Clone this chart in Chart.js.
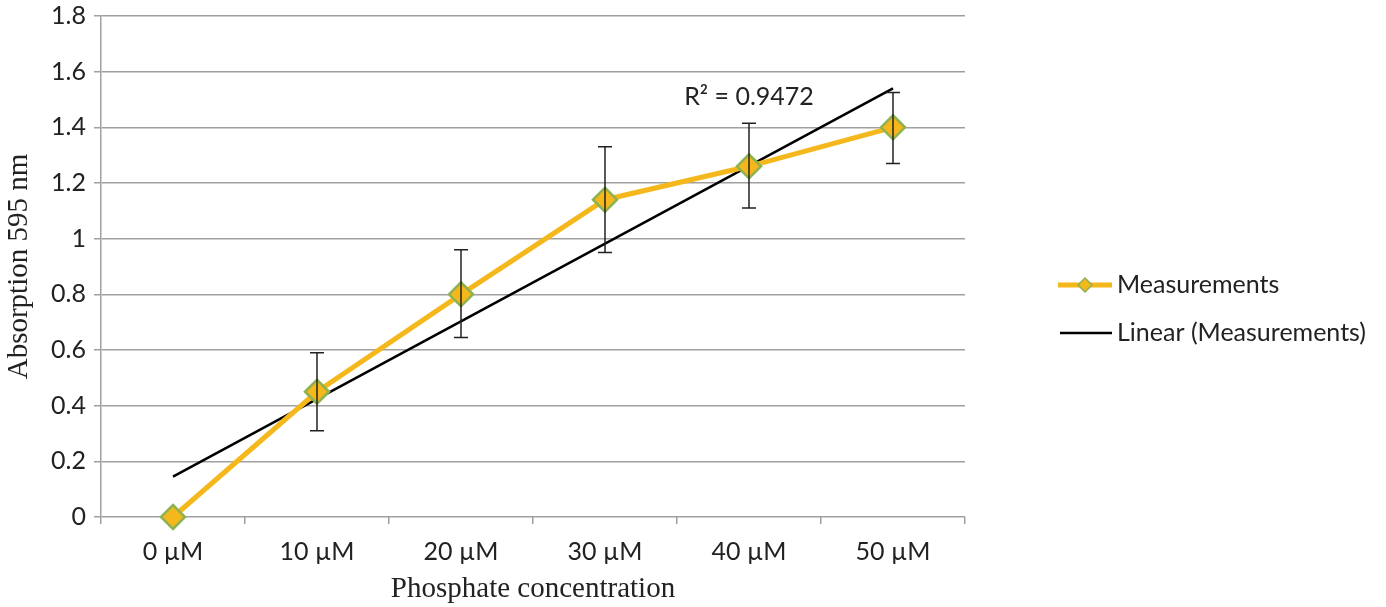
<!DOCTYPE html>
<html>
<head>
<meta charset="utf-8">
<script src="https://cdn.jsdelivr.net/npm/chart.js"></script>
<style>
  html, body { margin: 0; padding: 0; background: #fff; }
  #wrap { width: 1386px; height: 607px; }
</style>
</head>
<body>
<div id="wrap"><canvas id="myChart"></canvas></div>
<script>
    let labels = ["0 µM", "10 µM", "20 µM", "30 µM", "40 µM", "50 µM"];
    let measurements = [0, 0.45, 0.80, 1.14, 1.26, 1.40];
    let errPlus = [0, 0.14, 0.16, 0.19, 0.155, 0.125];
    let errMinus = [0, 0.14, 0.155, 0.19, 0.15, 0.13];
    // trend line end points
    let trend = [0.145, null, null, null, null, 1.54];
    let rSquared = "R² = 0.9472";

    let tickFont = { family: "Lato", size: 25 };
    let titleFont = { family: "Liberation Serif", size: 29 };

    let errorBars = {
      id: "errorBars",
      afterDatasetsDraw(chart) {
        let ctx = chart.ctx;
        let x = chart.scales.x, y = chart.scales.y;
        ctx.save();
        ctx.strokeStyle = "#222";
        ctx.lineWidth = 1.5;
        measurements.forEach(function (v, i) {
          if (!errPlus[i] && !errMinus[i]) return;
          let px = x.getPixelForValue(i);
          let top = y.getPixelForValue(v + errPlus[i]);
          let bot = y.getPixelForValue(v - errMinus[i]);
          ctx.beginPath();
          ctx.moveTo(px, top); ctx.lineTo(px, bot);
          ctx.moveTo(px - 7, top); ctx.lineTo(px + 7, top);
          ctx.moveTo(px - 7, bot); ctx.lineTo(px + 7, bot);
          ctx.stroke();
        });
        // R² label
        ctx.fillStyle = "#222";
        ctx.font = "25px Lato";
        ctx.textAlign = "center";
        ctx.textBaseline = "middle";
        ctx.fillText(rSquared, x.getPixelForValue(4), y.getPixelForValue(1.51));
        ctx.restore();
      }
    };

    let sideLegend = {
      id: "sideLegend",
      afterDraw(chart) {
        let ctx = chart.ctx;
        ctx.save();
        ctx.lineWidth = 5;
        ctx.strokeStyle = "#f5b81c";
        ctx.beginPath(); ctx.moveTo(1058, 285); ctx.lineTo(1112, 285); ctx.stroke();
        ctx.fillStyle = "#f5b81c";
        ctx.strokeStyle = "#8db24f";
        ctx.lineWidth = 1.5;
        ctx.beginPath();
        ctx.moveTo(1085, 278); ctx.lineTo(1092, 285); ctx.lineTo(1085, 292); ctx.lineTo(1078, 285);
        ctx.closePath(); ctx.fill(); ctx.stroke();
        ctx.strokeStyle = "#000";
        ctx.lineWidth = 2.5;
        ctx.beginPath(); ctx.moveTo(1060, 333); ctx.lineTo(1112, 333); ctx.stroke();
        ctx.fillStyle = "#222";
        ctx.font = "25px Lato";
        ctx.textBaseline = "middle";
        ctx.fillText("Measurements", 1117, 285);
        ctx.fillText("Linear (Measurements)", 1117, 333);
        ctx.restore();
      }
    };

    new Chart("myChart", {
      type: "line",
      data: {
        labels: labels,
        datasets: [{
          label: "Measurements",
          data: measurements,
          borderColor: "#f5b81c",
          borderWidth: 5,
          backgroundColor: "#f5b81c",
          pointStyle: "rectRot",
          pointRadius: 12,
          pointBackgroundColor: "#f5b81c",
          pointBorderColor: "#8db24f",
          pointBorderWidth: 2.5,
          tension: 0,
          clip: false
        }, {
          label: "Linear (Measurements)",
          data: trend,
          spanGaps: true,
          borderColor: "#000",
          borderWidth: 2.5,
          pointRadius: 0
        }]
      },
      options: {
        responsive: true,
        maintainAspectRatio: false,
        animation: false,
        layout: { padding: { top: 16, right: 421, left: 0, bottom: 0 } },
        plugins: {
          legend: { display: false },
          tooltip: { enabled: false }
        },
        scales: {
          x: {
            offset: true,
            grid: { offset: true, drawOnChartArea: false, color: "#a0a0a0", lineWidth: 1.5, tickLength: 7 },
            border: { display: false },
            ticks: { color: "#222", font: tickFont, padding: 13 },
            title: { display: true, text: "Phosphate concentration", color: "#222", font: titleFont, padding: { top: 2, bottom: 0 } },
            afterFit(scale) { scale.height = 90; }
          },
          y: {
            min: 0,
            max: 1.8,
            ticks: {
              stepSize: 0.2,
              color: "#222",
              font: { family: "Lato", size: 25, lineHeight: 0.6 },
              padding: 8,
              callback: v => String(+v.toFixed(1))
            },
            grid: { color: "#a0a0a0", lineWidth: 1.5, tickLength: 7 },
            border: { color: "#a0a0a0", width: 1.5 },
            title: { display: true, text: "Absorption 595 nm", color: "#222", font: titleFont, padding: { top: 2, bottom: 4 } },
            afterFit(scale) { scale.width = 101; scale.paddingTop = 0; scale.paddingBottom = 0; }
          }
        }
      },
      plugins: [errorBars, sideLegend]
    });
</script>
</body>
</html>
